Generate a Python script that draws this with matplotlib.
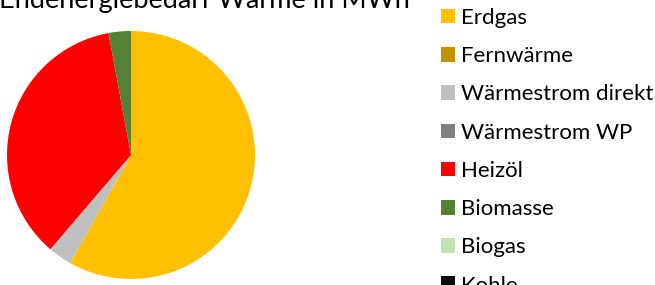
import matplotlib
matplotlib.use("Agg")
import matplotlib.pyplot as plt
from matplotlib.patches import Patch

plt.rcParams['font.family'] = ['Lato', 'DejaVu Sans']

title = "Endenergiebedarf Wärme in MWh"
categories = ["Erdgas", "Fernwärme", "Wärmestrom direkt", "Wärmestrom WP",
              "Heizöl", "Biomasse", "Biogas", "Kohle"]
values = [58.1, 0.0, 3.1, 0.0, 35.8, 2.9, 0.0, 0.0]
colors = ["#FFC000", "#BF9000", "#BFBFBF", "#808080",
          "#FF0000", "#548235", "#C5E0B4", "#0D0D0D"]

W, H = 655, 285
fig = plt.figure(figsize=(W / 100, H / 100), dpi=100)

cx, cy, r = 131, 155, 124
ax = fig.add_axes([(cx - r) / W, (H - cy - r) / H, 2 * r / W, 2 * r / H])
ax.pie(values, colors=colors, startangle=90, counterclock=False,
       radius=1.0, wedgeprops=dict(linewidth=0))
ax.set_xlim(-1, 1)
ax.set_ylim(-1, 1)
ax.set_aspect('equal')
ax.axis('off')

fig.text(-0.002, (H - 8) / H, title, fontsize=19.5, color="#000000",
         ha='left', va='baseline')

handles = [Patch(facecolor=c, edgecolor='none') for c in colors]
leg = fig.legend(handles, categories, loc='upper left',
                 bbox_to_anchor=(441 / W, (H - 8) / H), frameon=False,
                 fontsize=16, handlelength=0.63, handleheight=0.63,
                 handletextpad=0.27, labelspacing=0.82, borderpad=0.0,
                 borderaxespad=0.0)

fig.savefig("out.png", dpi=100)
